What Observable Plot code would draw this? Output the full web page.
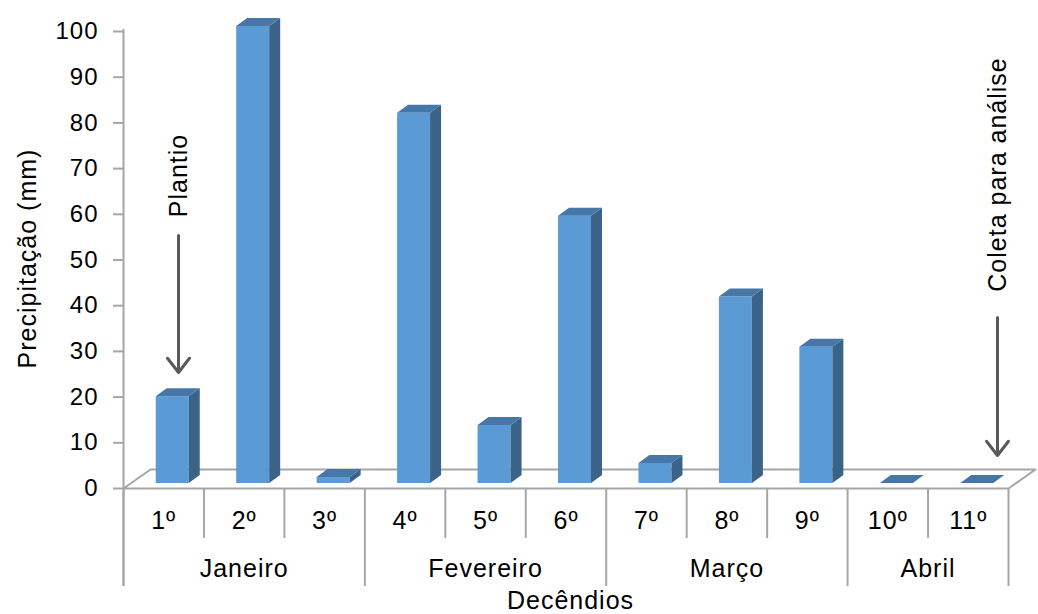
<!DOCTYPE html>
<html><head><meta charset="utf-8">
<script src="https://cdn.jsdelivr.net/npm/d3@7"></script>
<script src="https://cdn.jsdelivr.net/npm/@observablehq/plot@0.6"></script>
<style>body{margin:0;background:#fff}</style>
</head><body><div id="chart"></div>
<script>
// ---- data ----
const decendios = ["1º","2º","3º","4º","5º","6º","7º","8º","9º","10º","11º"];
const precipitacao = [19, 100, 1.3, 81, 12.7, 58.5, 4.4, 40.8, 29.8, 0, 0];
const meses = ["Janeiro","Fevereiro","Março","Abril"];
const mesInicio = [0, 3, 6, 9];
const mesFim = [3, 6, 9, 11];
const yTicks = [0,10,20,30,40,50,60,70,80,90,100];
const eixoY = "Precipitação (mm)";
const eixoX = "Decêndios";
const notas = [{texto: "Plantio"}, {texto: "Coleta para análise"}];

// ---- layout ----
const W = 1038, H = 614;
const mL = 123, mR = 30, mT = 26, mB = 131;
const n = decendios.length;
const pxX = (W - mL - mR) / n;      // px per category
const pxY = (H - mT - mB) / 100;    // px per mm
const ux = p => p / pxX;            // px -> x units
const uy = p => p / pxY;            // px -> y units
const faceW = 33, faceOff = 9, depthX = 11, depthY = 8;
const dX = ux(depthX), dY = uy(depthY);

const bars = decendios.map((d, i) => ({
  d, v: precipitacao[i],
  xl: i + 0.5 + ux(faceOff - faceW / 2),
  xr: i + 0.5 + ux(faceOff + faceW / 2)
}));
const sides = bars.flatMap(b => [
  {z: b.d, x: b.xr, y1: 0, y2: b.v},
  {z: b.d, x: b.xr + dX, y1: dY, y2: b.v + dY}
]);
const tops = bars.flatMap(b => [
  {z: b.d, y: b.v, x1: b.xl, x2: b.xr},
  {z: b.d, y: b.v + dY, x1: b.xl + dX, x2: b.xr + dX}
]);

const yFront = -uy(5), yBack = uy(14), floorDX = ux(27);
const floor = [
  {x: 0, y: yFront}, {x: n, y: yFront}, {x: n + floorDX, y: yBack},
  {x: floorDX, y: yBack}, {x: 0, y: yFront}
];
const minor = d3.range(0, n + 1).filter(k => !mesInicio.includes(k) && k !== n);
const major = [...mesInicio, n];

const gray = "#a6a6a6";
const fs = 25;
const chart = Plot.plot({
  width: W, height: H,
  marginLeft: mL, marginRight: mR, marginTop: mT, marginBottom: mB,
  style: {fontFamily: "'Liberation Sans', Arial, sans-serif", color: "#000", background: "#fff", letterSpacing: "1px"},
  x: {type: "linear", domain: [0, n], axis: null},
  y: {type: "linear", domain: [0, 100], axis: null},
  marks: [
    Plot.line(floor, {x: "x", y: "y", stroke: gray, strokeWidth: 2}),
    Plot.ruleX([0], {y1: -uy(586 - 483), y2: uy(483 - 29), stroke: gray, strokeWidth: 2}),
    Plot.ruleX(minor, {x: d => d, y1: yFront, y2: -uy(538 - 483), stroke: gray, strokeWidth: 2}),
    Plot.ruleX(major, {x: d => d, y1: yFront, y2: -uy(586 - 483), stroke: gray, strokeWidth: 2}),
    Plot.axisY({ticks: yTicks, tickSize: 10, tickPadding: 15, dy: 5, stroke: gray, strokeWidth: 2,
      fill: "#000", fontSize: 24, tickFormat: d => String(d), label: null}),
    Plot.rectY(bars, {x1: "xl", x2: "xr", y1: 0, y2: "v", fill: "#5b9bd5"}),
    Plot.areaY(sides, {x: "x", y1: "y1", y2: "y2", z: "z", fill: "#3a6387"}),
    Plot.areaX(tops, {y: "y", x1: "x1", x2: "x2", z: "z", fill: "#4677a8"}),
    Plot.text(decendios, {x: (d, i) => i + 0.5, y: -uy(520 - 483), text: d => d, fontSize: fs}),
    Plot.text(meses, {x: (d, i) => (mesInicio[i] + mesFim[i]) / 2, y: -uy(568 - 483), text: d => d, fontSize: fs}),
    Plot.text([eixoX], {x: ux(570 - mL), y: -uy(600 - 483), text: d => d, fontSize: fs}),
    Plot.text([eixoY], {x: -ux(mL - 27), y: uy(483 - 258), text: d => d, rotate: -90, fontSize: fs}),
    Plot.text([notas[0]], {x: ux(178 - mL), y: uy(483 - 175), text: "texto", rotate: -90, fontSize: fs}),
    Plot.text([notas[1]], {x: ux(997 - mL), y: uy(483 - 174), text: "texto", rotate: -90, fontSize: fs}),
    Plot.arrow([{x: ux(178 - mL), a: uy(483 - 235), b: uy(483 - 372)}, {x: ux(997 - mL), a: uy(483 - 317), b: uy(483 - 455)}],
      {x1: "x", x2: "x", y1: "a", y2: "b", stroke: "#595959", strokeWidth: 3, headLength: 9, headAngle: 75})
  ]
});
document.getElementById("chart").appendChild(chart);
</script>
</body></html>
